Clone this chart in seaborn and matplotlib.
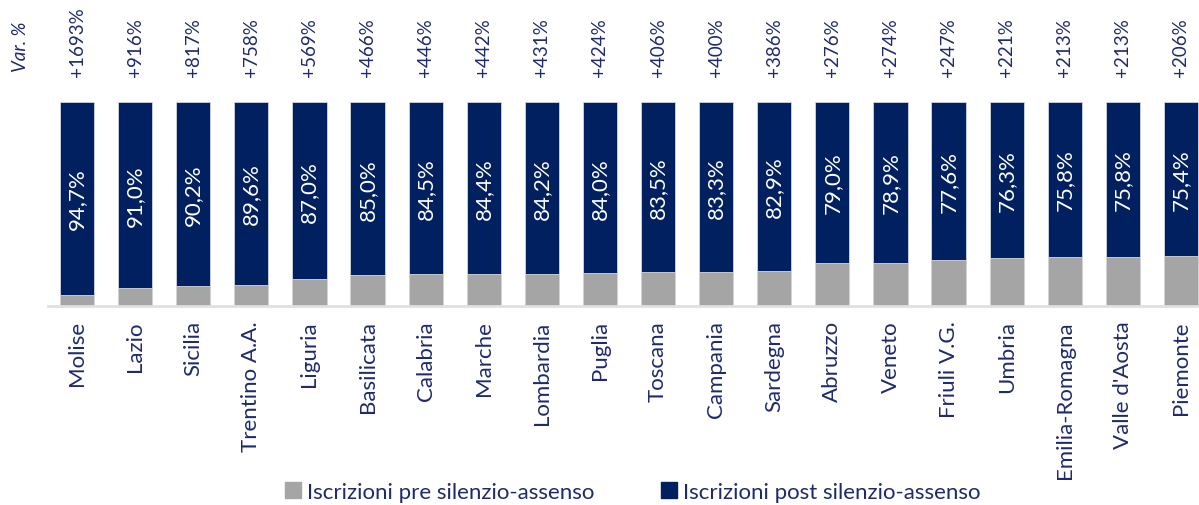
import matplotlib
matplotlib.use("Agg")
import matplotlib.pyplot as plt
import seaborn as sns
import pandas as pd
from matplotlib.patches import Patch

regioni = ['Molise', 'Lazio', 'Sicilia', 'Trentino A.A.', 'Liguria', 'Basilicata',
           'Calabria', 'Marche', 'Lombardia', 'Puglia', 'Toscana', 'Campania',
           'Sardegna', 'Abruzzo', 'Veneto', 'Friuli V.G.', 'Umbria',
           'Emilia-Romagna', "Valle d'Aosta", 'Piemonte']
quota_post = [94.7, 91.0, 90.2, 89.6, 87.0, 85.0, 84.5, 84.4, 84.2, 84.0,
              83.5, 83.3, 82.9, 79.0, 78.9, 77.6, 76.3, 75.8, 75.8, 75.4]
var_perc = [1693, 916, 817, 758, 569, 466, 446, 442, 431, 424,
            406, 400, 386, 276, 274, 247, 221, 213, 213, 206]

quota_pre = [round(100 - v, 1) for v in quota_post]
df = pd.DataFrame({'Regione': regioni, 'pre': quota_pre, 'post': quota_post})
df['totale'] = df['pre'] + df['post']

NAVY = '#002060'
GREY = '#A5A5A5'
TXT = '#1F2A6E'

sns.set_style('white')
plt.rcParams['font.family'] = ['Lato', 'DejaVu Sans']

fig = plt.figure(figsize=(11.99, 5.06), dpi=100)
W, H = 1199, 506
x0, base, top = 48, 307, 103
step = 58.1
ax = fig.add_axes([x0 / W, (H - base) / H, 20 * step / W, (base - top) / H])

sns.barplot(data=df, x='Regione', y='totale', color=NAVY, width=0.59,
            edgecolor='#D0D5E0', linewidth=0.6, saturation=1, ax=ax)
sns.barplot(data=df, x='Regione', y='pre', color=GREY, width=0.59,
            edgecolor='#D8D8D8', linewidth=0.6, saturation=1, ax=ax)

ax.set_xlim(-0.5, 19.5)
ax.set_ylim(0, 100)
ax.set_xlabel('')
ax.set_ylabel('')
ax.set_xticks([])
ax.set_yticks([])
for s in ['top', 'right', 'left']:
    ax.spines[s].set_visible(False)
ax.spines['bottom'].set_color('#E0E0E0')
ax.spines['bottom'].set_linewidth(2)

trans = ax.get_xaxis_transform()
for i, row in df.iterrows():
    ax.text(i, row['pre'] + row['post'] / 2, f"{row['post']:.1f}%".replace('.', ','),
            rotation=90, ha='center', va='center', color='white', fontsize=16)
    ax.text(i, 1.125, f"+{var_perc[i]}%", transform=trans, rotation=90,
            ha='center', va='bottom', color=TXT, fontsize=13.5, clip_on=False)
    ax.text(i, -0.07, row['Regione'], transform=trans, rotation=90,
            ha='center', va='top', color=TXT, fontsize=16, clip_on=False)

fig.text(21 / W, 1 - 72 / H, 'Var. %', rotation=90, ha='center', va='bottom',
         color=TXT, fontsize=13.5, style='italic')

handles = [Patch(color=GREY, label='Iscrizioni pre silenzio-assenso'),
           Patch(color=NAVY, label='Iscrizioni post silenzio-assenso')]
fig.legend(handles=handles, loc='center', bbox_to_anchor=(633 / W, 1 - 493 / H),
           ncol=2, frameon=False, fontsize=16, handlelength=0.7, handleheight=0.7,
           handletextpad=0.3, columnspacing=3.0, labelcolor=TXT)

fig.savefig('out.png', dpi=100)
